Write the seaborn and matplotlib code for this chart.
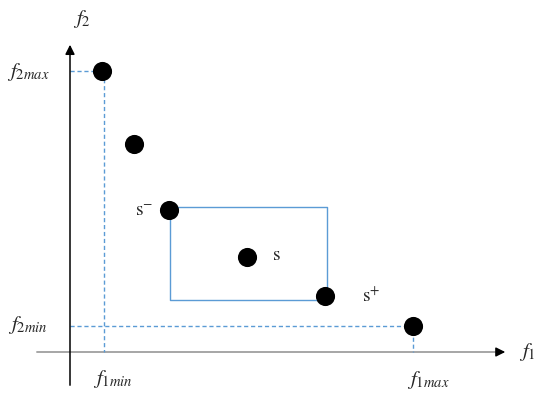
import matplotlib
matplotlib.use("Agg")
import matplotlib.pyplot as plt
import seaborn as sns
import pandas as pd

# solutions in objective space (f1, f2), origin at the axis crossing
f1_vals = [32, 64, 99, 177, 255, 343]
f2_vals = [281, 208, 142, 95, 56, 26]
labels = ["", "", "s-", "s", "s+", ""]

f1_min, f1_max = 34, 343
f2_min, f2_max = 26, 281
box_f1 = [100, 257]
box_f2 = [52, 145]

sns.set_theme(style="white")
plt.rcParams["mathtext.fontset"] = "stix"
plt.rcParams["font.family"] = ["Liberation Serif", "DejaVu Serif"]

fig = plt.figure(figsize=(5.5, 3.98), dpi=100)
ax = fig.add_axes([0, 0, 1, 1])
ax.set_xlim(-70, 480)
ax.set_ylim(-46, 352)
ax.axis("off")

blue = "#5b9bd5"

# axes with arrow heads
ax.plot([-33, 432], [0, 0], color="#a6a6a6", lw=1.4, zorder=1)
ax.annotate("", xy=(438, 0), xytext=(425, 0),
            arrowprops=dict(arrowstyle="-|>", color="black", lw=1, mutation_scale=14))
ax.annotate("", xy=(0, 310), xytext=(0, -36),
            arrowprops=dict(arrowstyle="-|>", color="black", lw=1.1, mutation_scale=14))

# dashed guides for extreme values
ax.plot([0, f1_min, f1_min], [f2_max, f2_max, 0], color=blue, ls=(0, (3, 2)), lw=1)
ax.plot([0, f1_max, f1_max], [f2_min, f2_min, 0], color=blue, ls=(0, (3, 2)), lw=1)

# box spanned by neighbours s- and s+
ax.plot([box_f1[0], box_f1[1], box_f1[1], box_f1[0], box_f1[0]],
        [box_f2[1], box_f2[1], box_f2[0], box_f2[0], box_f2[1]],
        color=blue, lw=1, zorder=2)

df = pd.DataFrame({"f1": f1_vals, "f2": f2_vals, "label": labels})
sns.scatterplot(data=df, x="f1", y="f2", ax=ax, color="black", s=190,
                edgecolor="black", linewidth=0, zorder=3, legend=False)

fs = 15
ax.text(12, 333, r"$f_2$", fontsize=fs, ha="center", va="center")
ax.text(-42, 280, r"$f_{2max}$", fontsize=fs, ha="center", va="center")
ax.text(-42, 27, r"$f_{2min}$", fontsize=fs, ha="center", va="center")
ax.text(43, -27, r"$f_{1min}$", fontsize=fs, ha="center", va="center")
ax.text(358, -28, r"$f_{1max}$", fontsize=fs, ha="center", va="center")
ax.text(457, 0, r"$f_1$", fontsize=fs, ha="center", va="center")

ax.text(74, 141, r"$\mathrm{s}^{-}$", fontsize=14, ha="center", va="center")
ax.text(206, 96, r"$\mathrm{s}$", fontsize=14, ha="center", va="center")
ax.text(301, 56, r"$\mathrm{s}^{+}$", fontsize=14, ha="center", va="center")

fig.savefig("out.png", dpi=100)
